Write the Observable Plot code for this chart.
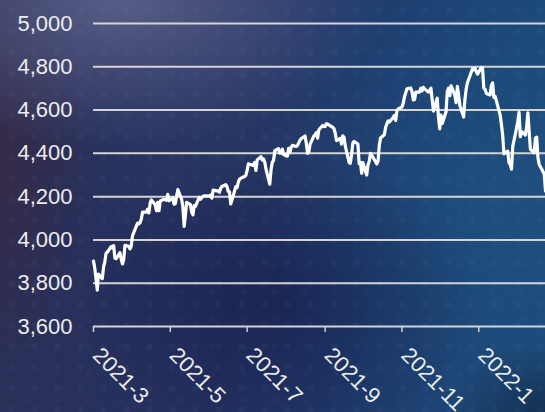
<!DOCTYPE html>
<html>
<head>
<meta charset="utf-8">
<script src="https://cdn.jsdelivr.net/npm/d3@7"></script>
<script src="https://cdn.jsdelivr.net/npm/@observablehq/plot@0.6"></script>
<style>
  html, body { margin: 0; padding: 0; }
  body {
    width: 545px; height: 412px; overflow: hidden;
    background:
      radial-gradient(circle at 50% 50%, rgba(120,160,215,0.05) 0, rgba(120,160,215,0.05) 2.5px, rgba(120,160,215,0) 4px) 0 0 / 23px 21px,
      radial-gradient(circle at 50% 50%, rgba(120,160,215,0.035) 0, rgba(120,160,215,0.035) 2px, rgba(120,160,215,0) 3.5px) 11px 9px / 31px 27px,
      radial-gradient(ellipse 270px 150px at 120px 0px, rgba(92,98,138,0.9), rgba(92,98,138,0) 100%),
      radial-gradient(ellipse 90px 210px at 0px 160px, rgba(58,40,66,0.75), rgba(58,40,66,0) 100%),
      radial-gradient(ellipse 200px 150px at 280px 300px, rgba(22,28,72,0.6), rgba(22,28,72,0) 100%),
      radial-gradient(ellipse 180px 130px at 230px 160px, rgba(42,58,100,0.5), rgba(42,58,100,0) 100%),
      radial-gradient(ellipse 230px 270px at 490px 210px, rgba(30,86,132,0.6), rgba(30,86,132,0) 100%),
      radial-gradient(ellipse 90px 70px at 545px 412px, rgba(14,28,52,0.7), rgba(14,28,52,0) 100%),
      linear-gradient(90deg, #2a3058 0%, #243060 40%, #1e3a6c 65%, #1d4878 100%);
  }
  #chart svg { background: transparent; display: block; }
</style>
</head>
<body>
<div id="chart"></div>
<script>
const dates = [
"2021-03-01","2021-03-02","2021-03-03","2021-03-04","2021-03-05","2021-03-08","2021-03-09","2021-03-10","2021-03-11","2021-03-12","2021-03-15","2021-03-16","2021-03-17","2021-03-18","2021-03-19","2021-03-22","2021-03-23","2021-03-24","2021-03-25","2021-03-26","2021-03-29","2021-03-30","2021-03-31",
"2021-04-01","2021-04-05","2021-04-06","2021-04-07","2021-04-08","2021-04-09","2021-04-12","2021-04-13","2021-04-14","2021-04-15","2021-04-16","2021-04-19","2021-04-20","2021-04-21","2021-04-22","2021-04-23","2021-04-26","2021-04-27","2021-04-28","2021-04-29","2021-04-30",
"2021-05-03","2021-05-04","2021-05-05","2021-05-06","2021-05-07","2021-05-10","2021-05-11","2021-05-12","2021-05-13","2021-05-14","2021-05-17","2021-05-18","2021-05-19","2021-05-20","2021-05-21","2021-05-24","2021-05-25","2021-05-26","2021-05-27","2021-05-28",
"2021-06-01","2021-06-02","2021-06-03","2021-06-04","2021-06-07","2021-06-08","2021-06-09","2021-06-10","2021-06-11","2021-06-14","2021-06-15","2021-06-16","2021-06-17","2021-06-18","2021-06-21","2021-06-22","2021-06-23","2021-06-24","2021-06-25","2021-06-28","2021-06-29","2021-06-30",
"2021-07-01","2021-07-02","2021-07-06","2021-07-07","2021-07-08","2021-07-09","2021-07-12","2021-07-13","2021-07-14","2021-07-15","2021-07-16","2021-07-19","2021-07-20","2021-07-21","2021-07-22","2021-07-23","2021-07-26","2021-07-27","2021-07-28","2021-07-29","2021-07-30",
"2021-08-02","2021-08-03","2021-08-04","2021-08-05","2021-08-06","2021-08-09","2021-08-10","2021-08-11","2021-08-12","2021-08-13","2021-08-16","2021-08-17","2021-08-18","2021-08-19","2021-08-20","2021-08-23","2021-08-24","2021-08-25","2021-08-26","2021-08-27","2021-08-30","2021-08-31",
"2021-09-01","2021-09-02","2021-09-03","2021-09-07","2021-09-08","2021-09-09","2021-09-10","2021-09-13","2021-09-14","2021-09-15","2021-09-16","2021-09-17","2021-09-20","2021-09-21","2021-09-22","2021-09-23","2021-09-24","2021-09-27","2021-09-28","2021-09-29","2021-09-30",
"2021-10-01","2021-10-04","2021-10-05","2021-10-06","2021-10-07","2021-10-08","2021-10-11","2021-10-12","2021-10-13","2021-10-14","2021-10-15","2021-10-18","2021-10-19","2021-10-20","2021-10-21","2021-10-22","2021-10-25","2021-10-26","2021-10-27","2021-10-28","2021-10-29",
"2021-11-01","2021-11-02","2021-11-03","2021-11-04","2021-11-05","2021-11-08","2021-11-09","2021-11-10","2021-11-11","2021-11-12","2021-11-15","2021-11-16","2021-11-17","2021-11-18","2021-11-19","2021-11-22","2021-11-23","2021-11-24","2021-11-26","2021-11-29","2021-11-30",
"2021-12-01","2021-12-02","2021-12-03","2021-12-06","2021-12-07","2021-12-08","2021-12-09","2021-12-10","2021-12-13","2021-12-14","2021-12-15","2021-12-16","2021-12-17","2021-12-20","2021-12-21","2021-12-22","2021-12-23","2021-12-27","2021-12-28","2021-12-29","2021-12-30","2021-12-31",
"2022-01-03","2022-01-04","2022-01-05","2022-01-06","2022-01-07","2022-01-10","2022-01-11","2022-01-12","2022-01-13","2022-01-14","2022-01-18","2022-01-19","2022-01-20","2022-01-21","2022-01-24","2022-01-25","2022-01-26","2022-01-27","2022-01-28","2022-01-31",
"2022-02-01","2022-02-02","2022-02-03","2022-02-04","2022-02-07","2022-02-08","2022-02-09","2022-02-10","2022-02-11","2022-02-14","2022-02-15","2022-02-16","2022-02-17","2022-02-18","2022-02-22","2022-02-23"
];
const closes = [
3902,3870,3820,3768,3842,3821,3875,3899,3939,3943,3969,3963,3974,3915,3913,3941,3911,3889,3910,3975,3971,3959,3973,
4020,4078,4074,4080,4097,4129,4128,4142,4125,4170,4185,4163,4135,4173,4135,4180,4188,4187,4183,4211,4181,
4193,4165,4168,4202,4233,4188,4152,4063,4113,4174,4163,4128,4116,4159,4156,4197,4188,4196,4201,4204,
4202,4208,4193,4230,4227,4227,4220,4239,4247,4255,4247,4224,4222,4166,4225,4246,4242,4266,4281,4291,4292,4298,
4320,4352,4344,4358,4321,4370,4385,4369,4374,4360,4327,4258,4323,4359,4367,4412,4422,4401,4401,4419,4395,
4387,4423,4403,4429,4437,4432,4437,4448,4461,4468,4480,4448,4400,4406,4442,4480,4486,4496,4470,4509,4529,4523,
4524,4537,4535,4520,4514,4493,4459,4469,4443,4481,4474,4433,4358,4354,4396,4449,4455,4443,4353,4359,4308,
4357,4300,4346,4364,4400,4391,4361,4351,4364,4438,4471,4486,4520,4536,4550,4545,4566,4575,4552,4596,4605,
4614,4631,4661,4680,4698,4702,4685,4647,4649,4683,4683,4701,4689,4705,4698,4683,4691,4701,4595,4655,4567,
4513,4577,4538,4592,4687,4701,4667,4712,4669,4634,4710,4669,4621,4568,4649,4697,4726,4791,4786,4793,4779,4766,
4797,4794,4701,4696,4677,4670,4713,4726,4659,4663,4577,4533,4483,4398,4410,4356,4350,4327,4432,4516,
4547,4589,4477,4501,4484,4522,4587,4504,4419,4402,4471,4475,4380,4349,4305,4226
];
const yTicks = [3600, 3800, 4000, 4200, 4400, 4600, 4800, 5000];

const parse = d3.utcParse("%Y-%m-%d");
const data = dates.map((d, i) => ({date: parse(d), close: closes[i]}));
const xTickInterval = d3.utcMonth.every(2);

const chart = Plot.plot({
  width: 545,
  height: 412,
  marginLeft: 93,
  marginRight: 0,
  marginTop: 23,
  marginBottom: 86,
  style: {fontFamily: "'Liberation Sans', Arial, sans-serif", fontSize: "22px", color: "#ececec", background: "transparent", overflow: "visible"},
  x: {type: "utc", domain: [parse(dates[0]), parse(dates[dates.length - 1])]},
  y: {domain: [3600, 5000]},
  marks: [
    Plot.gridY(yTicks, {stroke: "#d4d4d4", strokeOpacity: 1, strokeWidth: 2}),
    Plot.axisY(yTicks, {label: null, tickFormat: d3.format(","), tickSize: 0, tickPadding: 21, fontSize: 22, fill: "#ececec"}),
    Plot.axisX({label: null, ticks: xTickInterval, tickFormat: () => "", tickSize: 6, stroke: "#d0d0d0", strokeWidth: 1.5}),
    Plot.axisX({label: null, ticks: xTickInterval, tickFormat: d3.utcFormat("%Y-%-m"), tickRotate: 45, tickSize: 0, tickPadding: 25, dx: 3, fontSize: 22, fill: "#ececec"}),
    Plot.line(data, {x: "date", y: "close", stroke: "white", strokeWidth: 3.2, strokeLinejoin: "round", strokeLinecap: "round"})
  ]
});
document.getElementById("chart").appendChild(chart);
</script>
</body>
</html>
